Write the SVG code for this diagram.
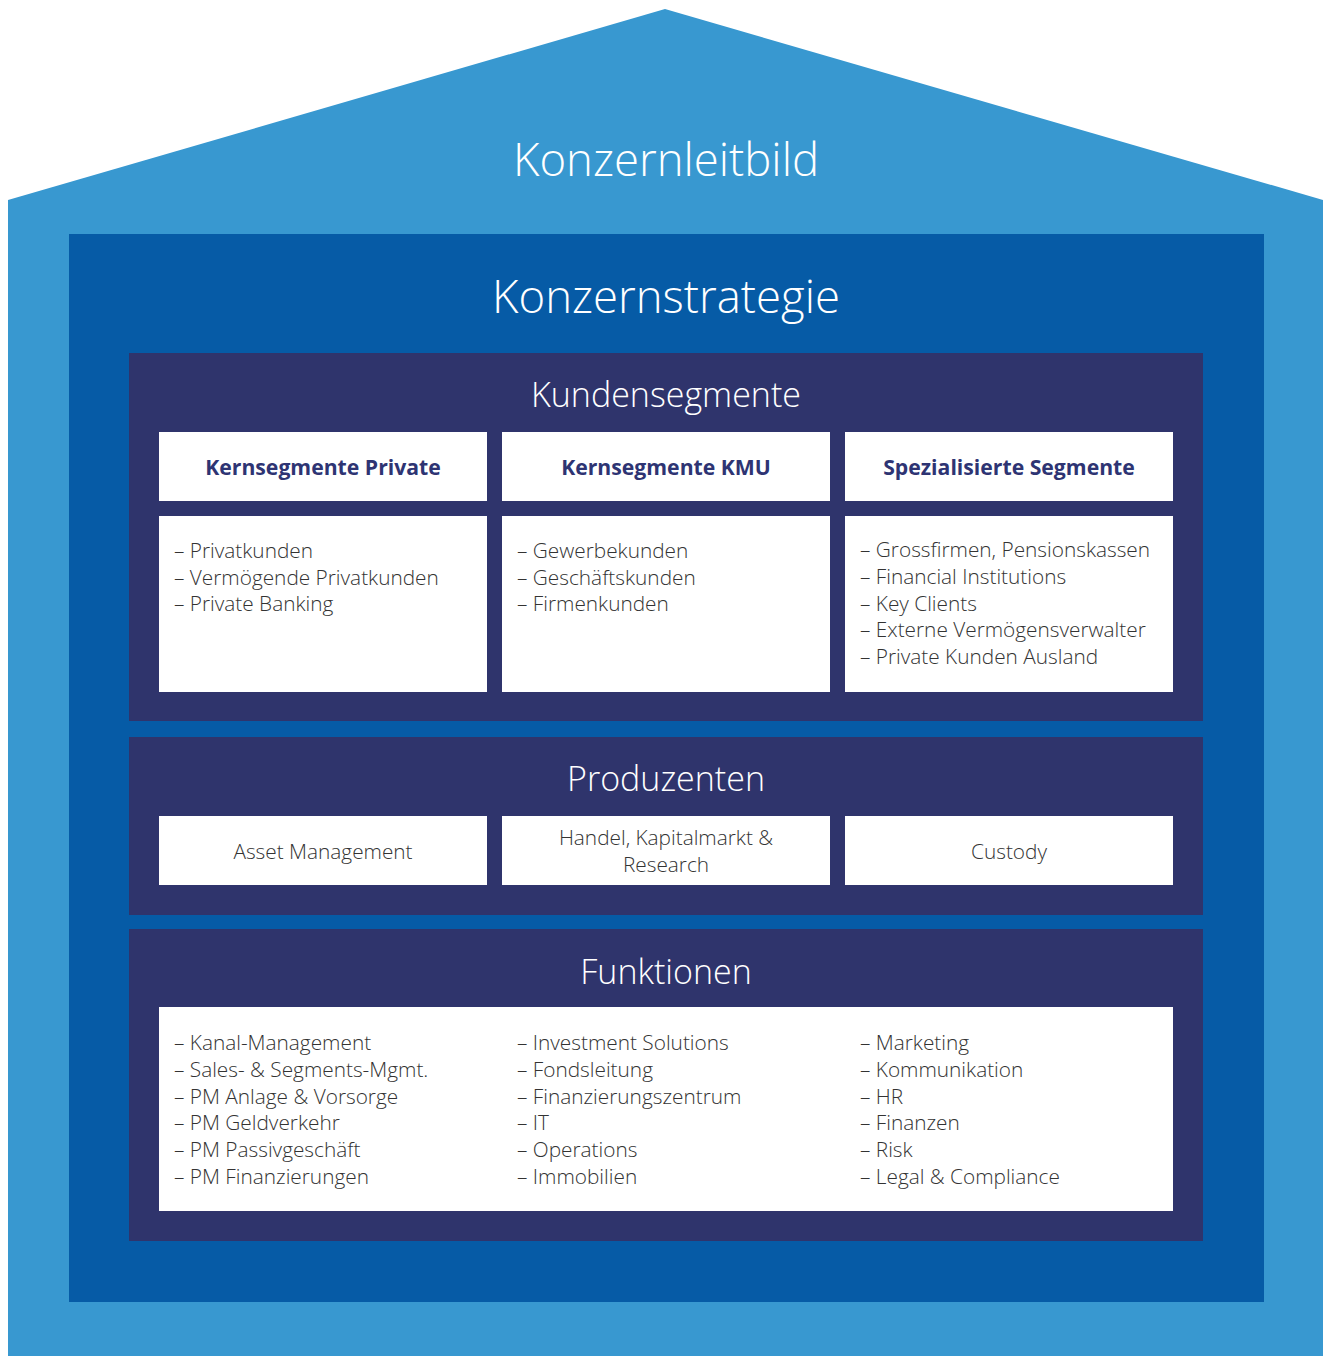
<svg xmlns="http://www.w3.org/2000/svg" width="1323" height="1356" viewBox="0 0 1323 1356">
  <style>
    .title { font-family: "Open Sans", "Noto Sans", sans-serif; font-weight: 300; fill: #ffffff; text-anchor: middle; }
    .big { font-size: 45.5px; }
    .mid { font-size: 34px; }
    .head { font-family: "Open Sans", "Noto Sans", sans-serif; font-weight: 700; font-size: 21.2px; fill: #2e3473; text-anchor: middle; }
    .item { font-family: "Open Sans", "Noto Sans", sans-serif; font-weight: 300; font-size: 20.8px; fill: #333333; }
    .center { text-anchor: middle; }
    .box { fill: #ffffff; }
    .panel { fill: #2f346c; }
  </style>

  <!-- outer house: roof and walls -->
  <g id="house">
    <polygon points="8,200 665,9 1323,200 1323,1356 8,1356" fill="#3898d0"/>
    <text class="title big" x="666" y="176">Konzernleitbild</text>
  </g>

  <!-- strategy block -->
  <g id="strategie">
    <rect x="69" y="234" width="1195" height="1068" fill="#065ba6"/>
    <text class="title big" x="666" y="313">Konzernstrategie</text>
  </g>

  <!-- customer segments -->
  <g id="kundensegmente">
    <rect class="panel" x="129" y="353" width="1074" height="368"/>
    <text class="title mid" x="666" y="407">Kundensegmente</text>
  </g>

  <g id="seg-private">
    <rect class="box" x="159" y="432" width="328" height="69"/>
    <text class="head" x="323" y="475">Kernsegmente Private</text>
    <rect class="box" x="159" y="516" width="328" height="176"/>
    <text class="item" x="174" y="558">– Privatkunden</text>
    <text class="item" x="174" y="584.5">– Vermögende Privatkunden</text>
    <text class="item" x="174" y="611">– Private Banking</text>
  </g>

  <g id="seg-kmu">
    <rect class="box" x="502" y="432" width="328" height="69"/>
    <text class="head" x="666" y="475">Kernsegmente KMU</text>
    <rect class="box" x="502" y="516" width="328" height="176"/>
    <text class="item" x="517" y="558">– Gewerbekunden</text>
    <text class="item" x="517" y="584.5">– Geschäftskunden</text>
    <text class="item" x="517" y="611">– Firmenkunden</text>
  </g>

  <g id="seg-spezial">
    <rect class="box" x="845" y="432" width="328" height="69"/>
    <text class="head" x="1009" y="475">Spezialisierte Segmente</text>
    <rect class="box" x="845" y="516" width="328" height="176"/>
    <text class="item" x="860" y="557">– Grossfirmen, Pensionskassen</text>
    <text class="item" x="860" y="584">– Financial Institutions</text>
    <text class="item" x="860" y="610.5">– Key Clients</text>
    <text class="item" x="860" y="637">– Externe Vermögensverwalter</text>
    <text class="item" x="860" y="664">– Private Kunden Ausland</text>
  </g>

  <!-- producers -->
  <g id="produzenten">
    <rect class="panel" x="129" y="737" width="1074" height="178"/>
    <text class="title mid" x="666" y="791">Produzenten</text>
  </g>

  <g id="prod-asset">
    <rect class="box" x="159" y="816" width="328" height="69"/>
    <text class="item center" x="323" y="859">Asset Management</text>
  </g>

  <g id="prod-handel">
    <rect class="box" x="502" y="816" width="328" height="69"/>
    <text class="item center" x="666" y="845">Handel, Kapitalmarkt &amp;</text>
    <text class="item center" x="666" y="872">Research</text>
  </g>

  <g id="prod-custody">
    <rect class="box" x="845" y="816" width="328" height="69"/>
    <text class="item center" x="1009" y="859">Custody</text>
  </g>

  <!-- functions -->
  <g id="funktionen">
    <rect class="panel" x="129" y="929" width="1074" height="312"/>
    <text class="title mid" x="666" y="984">Funktionen</text>
    <rect class="box" x="159" y="1007" width="1014" height="204"/>
  </g>

  <g id="funk-1">
    <text class="item" x="174" y="1050">– Kanal-Management</text>
    <text class="item" x="174" y="1077">– Sales- &amp; Segments-Mgmt.</text>
    <text class="item" x="174" y="1104">– PM Anlage &amp; Vorsorge</text>
    <text class="item" x="174" y="1130">– PM Geldverkehr</text>
    <text class="item" x="174" y="1157">– PM Passivgeschäft</text>
    <text class="item" x="174" y="1184">– PM Finanzierungen</text>
  </g>

  <g id="funk-2">
    <text class="item" x="517" y="1050">– Investment Solutions</text>
    <text class="item" x="517" y="1077">– Fondsleitung</text>
    <text class="item" x="517" y="1104">– Finanzierungszentrum</text>
    <text class="item" x="517" y="1130">– IT</text>
    <text class="item" x="517" y="1157">– Operations</text>
    <text class="item" x="517" y="1184">– Immobilien</text>
  </g>

  <g id="funk-3">
    <text class="item" x="860" y="1050">– Marketing</text>
    <text class="item" x="860" y="1077">– Kommunikation</text>
    <text class="item" x="860" y="1104">– HR</text>
    <text class="item" x="860" y="1130">– Finanzen</text>
    <text class="item" x="860" y="1157">– Risk</text>
    <text class="item" x="860" y="1184">– Legal &amp; Compliance</text>
  </g>

  <g id="connectors"/>
</svg>
